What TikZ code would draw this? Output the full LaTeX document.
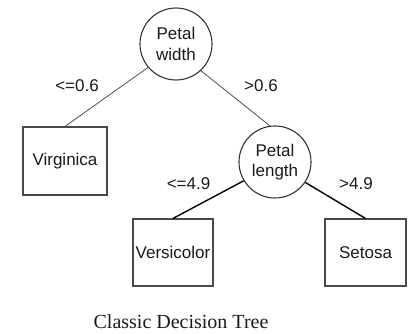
\documentclass[tikz,border=0pt]{standalone}
\usepackage{fontspec}
\newfontfamily\nodefont{Liberation Sans}
\newfontfamily\capfont{Liberation Serif}
\definecolor{inkgray}{HTML}{1A1A1A}
\definecolor{edgegray}{HTML}{505050}
\definecolor{boxgray}{HTML}{4A4A4A}
\tikzset{
  splitnode/.style={circle, draw=black!80, line width=1.1pt, fill=white,
    minimum size=72pt, inner sep=0pt, align=center, text=inkgray,
    font=\nodefont\fontsize{17}{20.5}\selectfont},
  leafnode/.style={rectangle, draw=boxgray, line width=1.1pt, fill=white,
    inner sep=0pt, text=inkgray, font=\nodefont\fontsize{17}{20}\selectfont},
  condlabel/.style={anchor=base, inner sep=0pt, text=inkgray,
    font=\nodefont\fontsize{17}{20}\selectfont},
  thinedge/.style={draw=edgegray, line width=0.8pt},
  boldedge/.style={draw=black, line width=1.4pt},
}
\begin{document}
\begin{tikzpicture}[x=1pt, y=-1pt]
  \useasboundingbox (0,0) rectangle (413,334);

  % split nodes
  \node[splitnode] (width) at (176,44) {Petal\\width};
  \node[splitnode] (length) at (275,162) {Petal\\length};

  % leaves
  \node[leafnode, minimum width=84pt, minimum height=68pt] (virginica) at (65,161) {Virginica};
  \node[leafnode, minimum width=80pt, minimum height=67pt] (versicolor) at (173,252.5) {Versicolor};
  \node[leafnode, minimum width=81pt, minimum height=67pt] (setosa) at (365.5,252.5) {Setosa};

  % branches
  \draw[thinedge] (width.220) -- (virginica.north);
  \draw[thinedge] (width.313) -- (length.98);
  \draw[boldedge] (length.211) -- (versicolor.north);
  \draw[boldedge] (length.326) -- (setosa.north);

  % split conditions
  \node[condlabel] (c1) at (77,92) {<=0.6};
  \node[condlabel] (c2) at (261,92) {>0.6};
  \node[condlabel] (c3) at (188.5,190) {<=4.9};
  \node[condlabel] (c4) at (356,190) {>4.9};

  % caption
  \node[anchor=base, inner sep=0pt, text=inkgray, font=\capfont\fontsize{20}{24}\selectfont]
    (caption) at (181,328) {Classic Decision Tree};
\end{tikzpicture}
\end{document}
